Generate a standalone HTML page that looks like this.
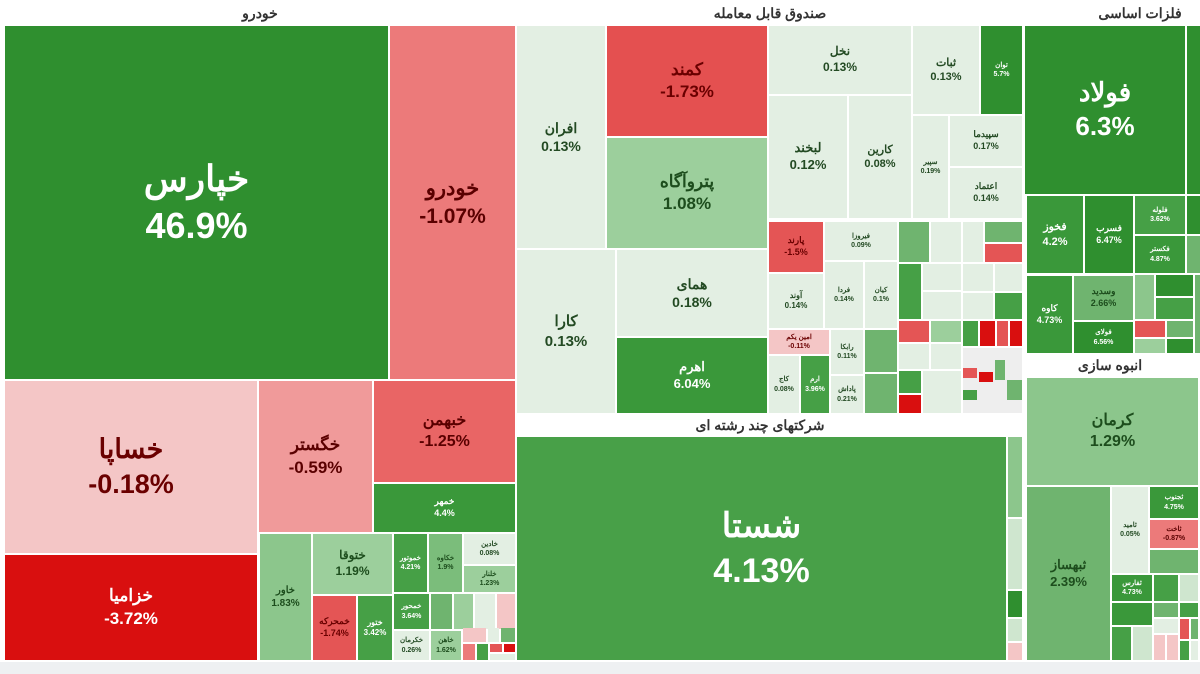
<!DOCTYPE html>
<html><head><meta charset="utf-8"><style>
*{margin:0;padding:0;box-sizing:border-box}
body{width:1200px;height:674px;background:#fff;position:relative;overflow:hidden;font-family:"Liberation Sans","Noto Sans CJK SC",sans-serif}
.c{position:absolute;display:flex;flex-direction:column;align-items:center;justify-content:center;font-weight:bold;text-align:center;overflow:hidden;line-height:1.3;font-size:7px;white-space:nowrap}
.t{position:absolute;font-size:14px;color:#333;font-weight:bold;text-align:center}
.d{background:#2f8f2f;color:#fff}
.m{background:#46a046;color:#fff}
.g{background:#6fb46f;color:#1d4d1d}
.p{background:#9ccf9c;color:#1d4d1d}
.l{background:#e3efe3;color:#234a23}
.r{background:#d90f0f;color:#fff}
.s{background:#e45555;color:#6a0000}
.o{background:#ec7a7a;color:#5a0000}
.k{background:#f4c6c6;color:#6a0000}
</style></head><body>
<div class="t" style="left:200px;top:5px;width:120px">خودرو</div>
<div class="t" style="left:680px;top:5px;width:180px">صندوق قابل معامله</div>
<div class="t" style="left:1080px;top:5px;width:120px">فلزات اساسی</div>
<div class="t" style="left:600px;top:417px;width:320px">شرکتهای چند رشته ای</div>
<div class="t" style="left:1030px;top:357px;width:160px">انبوه سازی</div>

<!-- خودرو -->
<div class="c d" style="left:5px;top:26px;width:383px;height:353px;font-size:36px"><div>خپارس</div><div>46.9%</div></div>
<div class="c o" style="left:390px;top:26px;width:125px;height:353px;font-size:21px"><div>خودرو</div><div>-1.07%</div></div>
<div class="c k" style="left:5px;top:381px;width:252px;height:172px;font-size:27px"><div>خساپا</div><div>-0.18%</div></div>
<div class="c r" style="left:5px;top:555px;width:252px;height:105px;font-size:17px"><div>خزامیا</div><div>-3.72%</div></div>
<div class="c o" style="left:259px;top:381px;width:113px;height:151px;font-size:17px;background:#f09a9a"><div>خگستر</div><div>-0.59%</div></div>
<div class="c o" style="left:374px;top:381px;width:141px;height:101px;font-size:16px;background:#e96565"><div>خبهمن</div><div>-1.25%</div></div>
<div class="c d" style="left:374px;top:484px;width:141px;height:48px;font-size:9px;background:#3a983a"><div>خمهر</div><div>4.4%</div></div>
<div class="c g" style="left:260px;top:534px;width:51px;height:126px;font-size:10px;background:#8cc68c"><div>خاور</div><div>1.83%</div></div>
<div class="c p" style="left:313px;top:534px;width:79px;height:60px;font-size:12px"><div>ختوقا</div><div>1.19%</div></div>
<div class="c s" style="left:313px;top:596px;width:43px;height:64px;font-size:9px"><div>خمحرکه</div><div>-1.74%</div></div>
<div class="c m" style="left:358px;top:596px;width:34px;height:64px;font-size:8px"><div>ختور</div><div>3.42%</div></div>
<div class="c m" style="left:394px;top:534px;width:33px;height:58px"><div>خموتور</div><div>4.21%</div></div>
<div class="c g" style="left:429px;top:534px;width:33px;height:58px;background:#7bbd7b"><div>خکاوه</div><div>1.9%</div></div>
<div class="c l" style="left:464px;top:534px;width:51px;height:30px"><div>خادین</div><div>0.08%</div></div>
<div class="c p" style="left:464px;top:566px;width:51px;height:26px"><div>خلنار</div><div>1.23%</div></div>
<div class="c m" style="left:394px;top:594px;width:35px;height:35px"><div>خمحور</div><div>3.64%</div></div>
<div class="c g" style="left:431px;top:594px;width:21px;height:35px"></div>
<div class="c p" style="left:454px;top:594px;width:19px;height:35px"></div>
<div class="c l" style="left:475px;top:594px;width:20px;height:35px"></div>
<div class="c k" style="left:497px;top:594px;width:18px;height:35px"></div>
<div class="c l" style="left:394px;top:631px;width:35px;height:29px"><div>خکرمان</div><div>0.26%</div></div>
<div class="c p" style="left:431px;top:631px;width:30px;height:29px"><div>خاهن</div><div>1.62%</div></div>
<div class="c k" style="left:463px;top:628px;width:23px;height:14px"></div>
<div class="c l" style="left:488px;top:628px;width:11px;height:14px"></div>
<div class="c g" style="left:501px;top:628px;width:14px;height:14px"></div>
<div class="c o" style="left:463px;top:644px;width:12px;height:16px"></div>
<div class="c m" style="left:477px;top:644px;width:11px;height:16px"></div>
<div class="c s" style="left:490px;top:644px;width:12px;height:8px"></div>
<div class="c r" style="left:504px;top:644px;width:11px;height:8px"></div>
<div class="c l" style="left:490px;top:654px;width:25px;height:6px"></div>

<!-- صندوق -->
<div class="c l" style="left:517px;top:26px;width:88px;height:222px;font-size:14px"><div>افران</div><div>0.13%</div></div>
<div class="c l" style="left:517px;top:250px;width:98px;height:163px;font-size:15px"><div>کارا</div><div>0.13%</div></div>
<div class="c s" style="left:607px;top:26px;width:160px;height:110px;font-size:17px;background:#e45050"><div>کمند</div><div>-1.73%</div></div>
<div class="c p" style="left:607px;top:138px;width:160px;height:110px;font-size:17px"><div>پتروآگاه</div><div>1.08%</div></div>
<div class="c l" style="left:617px;top:250px;width:150px;height:86px;font-size:14px"><div>همای</div><div>0.18%</div></div>
<div class="c d" style="left:617px;top:338px;width:150px;height:75px;font-size:13px;background:#3a983a"><div>اهرم</div><div>6.04%</div></div>
<div class="c l" style="left:769px;top:26px;width:142px;height:68px;font-size:12px"><div>نخل</div><div>0.13%</div></div>
<div class="c l" style="left:769px;top:96px;width:78px;height:122px;font-size:13px"><div>لبخند</div><div>0.12%</div></div>
<div class="c l" style="left:849px;top:96px;width:62px;height:122px;font-size:11px"><div>کارین</div><div>0.08%</div></div>
<div class="c l" style="left:913px;top:26px;width:66px;height:88px;font-size:11px"><div>ثبات</div><div>0.13%</div></div>
<div class="c d" style="left:981px;top:26px;width:41px;height:88px"><div>توان</div><div>5.7%</div></div>
<div class="c l" style="left:913px;top:116px;width:35px;height:102px"><div>سپیر</div><div>0.19%</div></div>
<div class="c l" style="left:950px;top:116px;width:72px;height:50px;font-size:9px"><div>سپیدما</div><div>0.17%</div></div>
<div class="c l" style="left:950px;top:168px;width:72px;height:50px;font-size:9px"><div>اعتماد</div><div>0.14%</div></div>
<div class="c s" style="left:769px;top:222px;width:54px;height:50px;font-size:9px"><div>پارند</div><div>-1.5%</div></div>
<div class="c l" style="left:825px;top:222px;width:72px;height:38px"><div>فیروزا</div><div>0.09%</div></div>
<div class="c l" style="left:769px;top:274px;width:54px;height:54px;font-size:8px"><div>آوند</div><div>0.14%</div></div>
<div class="c l" style="left:825px;top:262px;width:38px;height:66px"><div>فردا</div><div>0.14%</div></div>
<div class="c l" style="left:865px;top:262px;width:32px;height:66px"><div>کیان</div><div>0.1%</div></div>
<div class="c k" style="left:769px;top:330px;width:60px;height:24px"><div>امین یکم</div><div>-0.11%</div></div>
<div class="c l" style="left:769px;top:356px;width:30px;height:57px"><div>کاج</div><div>0.08%</div></div>
<div class="c m" style="left:801px;top:356px;width:28px;height:57px"><div>ارم</div><div>3.96%</div></div>
<div class="c l" style="left:831px;top:330px;width:32px;height:44px"><div>رابکا</div><div>0.11%</div></div>
<div class="c l" style="left:831px;top:376px;width:32px;height:37px"><div>پاداش</div><div>0.21%</div></div>
<div class="c g" style="left:865px;top:330px;width:32px;height:42px"></div>
<div class="c g" style="left:865px;top:374px;width:32px;height:39px"></div>
<div class="c g" style="left:899px;top:222px;width:30px;height:40px"></div>
<div class="c l" style="left:931px;top:222px;width:30px;height:40px"></div>
<div class="c l" style="left:963px;top:222px;width:20px;height:40px"></div>
<div class="c g" style="left:985px;top:222px;width:37px;height:20px"></div>
<div class="c s" style="left:985px;top:244px;width:37px;height:18px"></div>
<div class="c m" style="left:899px;top:264px;width:22px;height:55px"></div>
<div class="c l" style="left:923px;top:264px;width:38px;height:26px"></div>
<div class="c l" style="left:923px;top:292px;width:38px;height:27px"></div>
<div class="c l" style="left:963px;top:264px;width:30px;height:27px"></div>
<div class="c l" style="left:995px;top:264px;width:27px;height:27px"></div>
<div class="c l" style="left:963px;top:293px;width:30px;height:26px"></div>
<div class="c m" style="left:995px;top:293px;width:27px;height:26px"></div>
<div class="c s" style="left:899px;top:321px;width:30px;height:21px"></div>
<div class="c p" style="left:931px;top:321px;width:30px;height:21px"></div>
<div class="c l" style="left:899px;top:344px;width:30px;height:25px"></div>
<div class="c l" style="left:931px;top:344px;width:30px;height:25px"></div>
<div class="c m" style="left:963px;top:321px;width:15px;height:25px"></div>
<div class="c r" style="left:980px;top:321px;width:15px;height:25px"></div>
<div class="c s" style="left:997px;top:321px;width:11px;height:25px"></div>
<div class="c r" style="left:1010px;top:321px;width:12px;height:25px"></div>
<div class="c m" style="left:899px;top:371px;width:22px;height:22px"></div>
<div class="c r" style="left:899px;top:395px;width:22px;height:18px"></div>
<div class="c l" style="left:923px;top:371px;width:38px;height:42px"></div>
<div class="c l" style="left:963px;top:348px;width:59px;height:65px;background:#eee"></div>
<div class="c s" style="left:963px;top:368px;width:14px;height:10px"></div>
<div class="c r" style="left:979px;top:372px;width:14px;height:10px"></div>
<div class="c g" style="left:995px;top:360px;width:10px;height:20px"></div>
<div class="c m" style="left:963px;top:390px;width:14px;height:10px"></div>
<div class="c g" style="left:1007px;top:380px;width:15px;height:20px"></div>

<!-- چند رشته ای -->
<div class="c m" style="left:517px;top:437px;width:489px;height:223px;font-size:34px;background:#48a048"><div>شستا</div><div>4.13%</div></div>
<div class="c g" style="left:1008px;top:437px;width:14px;height:80px;background:#8cc68c"></div>
<div class="c l" style="left:1008px;top:519px;width:14px;height:70px;background:#cfe6cf"></div>
<div class="c d" style="left:1008px;top:591px;width:14px;height:26px"></div>
<div class="c l" style="left:1008px;top:619px;width:14px;height:22px;background:#cfe6cf"></div>
<div class="c k" style="left:1008px;top:643px;width:14px;height:17px"></div>

<!-- فلزات -->
<div class="c d" style="left:1025px;top:26px;width:160px;height:168px;font-size:26px"><div>فولاد</div><div>6.3%</div></div>
<div class="c d" style="left:1187px;top:26px;width:13px;height:168px"></div>
<div class="c d" style="left:1027px;top:196px;width:56px;height:77px;font-size:11px;background:#3a983a"><div>فخوز</div><div>4.2%</div></div>
<div class="c d" style="left:1085px;top:196px;width:48px;height:77px;font-size:9px"><div>فسرب</div><div>6.47%</div></div>
<div class="c m" style="left:1135px;top:196px;width:50px;height:38px"><div>فلوله</div><div>3.62%</div></div>
<div class="c d" style="left:1135px;top:236px;width:50px;height:37px;background:#3a983a"><div>فکستر</div><div>4.87%</div></div>
<div class="c d" style="left:1187px;top:196px;width:13px;height:38px"></div>
<div class="c g" style="left:1187px;top:236px;width:13px;height:37px"></div>
<div class="c d" style="left:1027px;top:276px;width:45px;height:77px;font-size:9px;background:#3a983a"><div>کاوه</div><div>4.73%</div></div>
<div class="c g" style="left:1074px;top:276px;width:59px;height:44px;font-size:9px"><div>وسدید</div><div>2.66%</div></div>
<div class="c d" style="left:1074px;top:322px;width:59px;height:31px"><div>فولای</div><div>6.56%</div></div>
<div class="c g" style="left:1135px;top:275px;width:19px;height:44px;background:#8cc68c"></div>
<div class="c d" style="left:1156px;top:275px;width:37px;height:21px"></div>
<div class="c m" style="left:1156px;top:298px;width:37px;height:21px"></div>
<div class="c s" style="left:1135px;top:321px;width:30px;height:16px"></div>
<div class="c g" style="left:1167px;top:321px;width:26px;height:16px"></div>
<div class="c p" style="left:1135px;top:339px;width:30px;height:14px"></div>
<div class="c d" style="left:1167px;top:339px;width:26px;height:14px"></div>
<div class="c g" style="left:1195px;top:275px;width:5px;height:78px"></div>

<!-- انبوه سازی -->
<div class="c p" style="left:1027px;top:378px;width:171px;height:107px;font-size:16px;background:#8cc68c"><div>کرمان</div><div>1.29%</div></div>
<div class="c g" style="left:1027px;top:487px;width:83px;height:173px;font-size:13px"><div>ثبهساز</div><div>2.39%</div></div>
<div class="c l" style="left:1112px;top:487px;width:36px;height:86px"><div>ثامید</div><div>0.05%</div></div>
<div class="c d" style="left:1150px;top:487px;width:48px;height:31px;background:#3a983a"><div>ثجنوب</div><div>4.75%</div></div>
<div class="c o" style="left:1150px;top:520px;width:48px;height:28px"><div>ثاخت</div><div>-0.87%</div></div>
<div class="c g" style="left:1150px;top:550px;width:48px;height:23px"></div>
<div class="c d" style="left:1112px;top:575px;width:40px;height:26px;background:#3a983a"><div>ثفارس</div><div>4.73%</div></div>
<div class="c d" style="left:1112px;top:603px;width:40px;height:22px;background:#3a983a"></div>
<div class="c m" style="left:1154px;top:575px;width:24px;height:26px"></div>
<div class="c l" style="left:1180px;top:575px;width:18px;height:26px;background:#cfe6cf"></div>
<div class="c g" style="left:1154px;top:603px;width:24px;height:14px"></div>
<div class="c m" style="left:1180px;top:603px;width:18px;height:14px"></div>
<div class="c m" style="left:1112px;top:627px;width:19px;height:33px"></div>
<div class="c l" style="left:1133px;top:627px;width:19px;height:33px;background:#cfe6cf"></div>
<div class="c l" style="left:1154px;top:619px;width:24px;height:14px"></div>
<div class="c k" style="left:1154px;top:635px;width:11px;height:25px"></div>
<div class="c k" style="left:1167px;top:635px;width:11px;height:25px"></div>
<div class="c s" style="left:1180px;top:619px;width:9px;height:20px"></div>
<div class="c g" style="left:1191px;top:619px;width:7px;height:20px"></div>
<div class="c m" style="left:1180px;top:641px;width:9px;height:19px"></div>
<div class="c l" style="left:1191px;top:641px;width:7px;height:19px"></div>

<div style="position:absolute;left:0;top:662px;width:1200px;height:12px;background:#eef0f2"></div>
</body></html>
